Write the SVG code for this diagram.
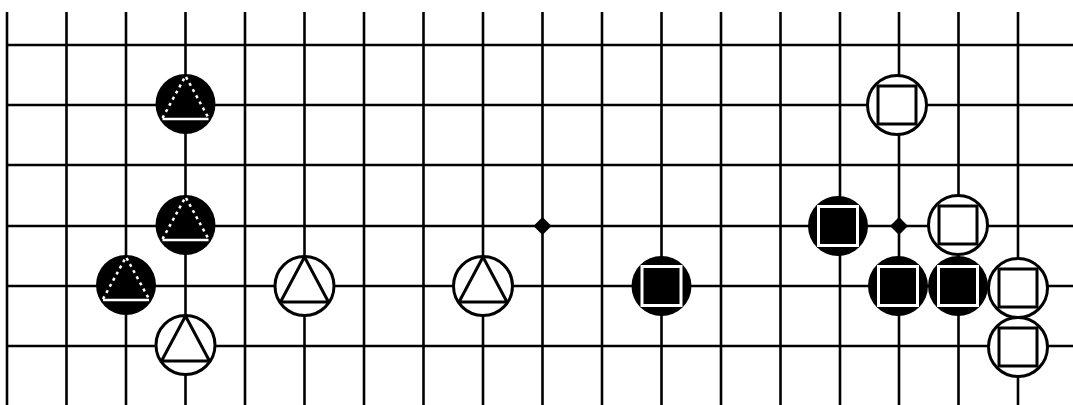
<svg xmlns="http://www.w3.org/2000/svg" width="1073" height="405" viewBox="0 0 1073 405">
<defs>
<style>
.grid line{stroke:#000;stroke-width:2.6}
.bs{fill:#000}
.ws{fill:#fff;stroke:#000;stroke-width:3}
.tb{fill:none;stroke:#fff;stroke-width:2.5;stroke-dasharray:3 4}
.tbase{stroke:#fff;stroke-width:2.5}
.tw{fill:none;stroke:#000;stroke-width:3;stroke-linejoin:round}
.sqb{fill:#000;stroke:#fff;stroke-width:3}
.sqw{fill:none;stroke:#000;stroke-width:3}
</style>
<g id="blackTri"><circle r="30" class="bs"/><polyline class="tb" points="-23,14 0,-28 23,14"/><line class="tbase" x1="-23" y1="15" x2="23" y2="15"/></g>
<g id="whiteTri"><circle r="29.5" class="ws"/><polygon class="tw" points="0,-29 -24,16 24,16"/></g>
<g id="blackSq"><circle r="30" class="bs"/><rect class="sqb" x="-19.5" y="-19.5" width="39" height="39"/></g>
<g id="whiteSq"><circle r="29.5" class="ws"/><rect class="sqw" x="-19" y="-19" width="38" height="38"/></g>
</defs>
<rect width="1073" height="405" fill="#fff"/>
<g id="connectors" class="grid">
<line x1="7" y1="45" x2="1073" y2="45"/>
<line x1="7" y1="105" x2="1073" y2="105"/>
<line x1="7" y1="165" x2="1073" y2="165"/>
<line x1="7" y1="226" x2="1073" y2="226"/>
<line x1="7" y1="286" x2="1073" y2="286"/>
<line x1="7" y1="346" x2="1073" y2="346"/>
<line x1="7" y1="12" x2="7" y2="405"/>
<line x1="66.5" y1="12" x2="66.5" y2="405"/>
<line x1="126" y1="12" x2="126" y2="405"/>
<line x1="185.5" y1="12" x2="185.5" y2="405"/>
<line x1="245" y1="12" x2="245" y2="405"/>
<line x1="304.5" y1="12" x2="304.5" y2="405"/>
<line x1="364" y1="12" x2="364" y2="405"/>
<line x1="423.5" y1="12" x2="423.5" y2="405"/>
<line x1="483" y1="12" x2="483" y2="405"/>
<line x1="542.5" y1="12" x2="542.5" y2="405"/>
<line x1="602" y1="12" x2="602" y2="405"/>
<line x1="661.5" y1="12" x2="661.5" y2="405"/>
<line x1="721" y1="12" x2="721" y2="405"/>
<line x1="780.5" y1="12" x2="780.5" y2="405"/>
<line x1="840" y1="12" x2="840" y2="405"/>
<line x1="899" y1="12" x2="899" y2="405"/>
<line x1="958.5" y1="12" x2="958.5" y2="405"/>
<line x1="1018" y1="12" x2="1018" y2="405"/>
</g>
<g id="hoshi1"><polygon points="542.5,217 551.5,226 542.5,235 533.5,226" fill="#000"/></g>
<g id="hoshi2"><polygon points="899,217 908,226 899,235 890,226" fill="#000"/></g>
<g id="b1"><use href="#blackTri" x="185.5" y="104"/></g>
<g id="b2"><use href="#blackTri" x="185.5" y="225"/></g>
<g id="b3"><use href="#blackTri" x="126" y="285"/></g>
<g id="w1"><use href="#whiteTri" x="185.5" y="345"/></g>
<g id="w2"><use href="#whiteTri" x="304.5" y="286"/></g>
<g id="w3"><use href="#whiteTri" x="483" y="286"/></g>
<g id="b4"><use href="#blackSq" x="661.5" y="286"/></g>
<g id="b5"><use href="#blackSq" x="838" y="226"/></g>
<g id="b6"><use href="#blackSq" x="898" y="286"/></g>
<g id="b7"><use href="#blackSq" x="958" y="286"/></g>
<g id="w4"><use href="#whiteSq" x="897" y="105"/></g>
<g id="w5"><use href="#whiteSq" x="958" y="225"/></g>
<g id="w6"><use href="#whiteSq" x="1018" y="288"/></g>
<g id="w7"><use href="#whiteSq" x="1018" y="347"/></g>
</svg>
